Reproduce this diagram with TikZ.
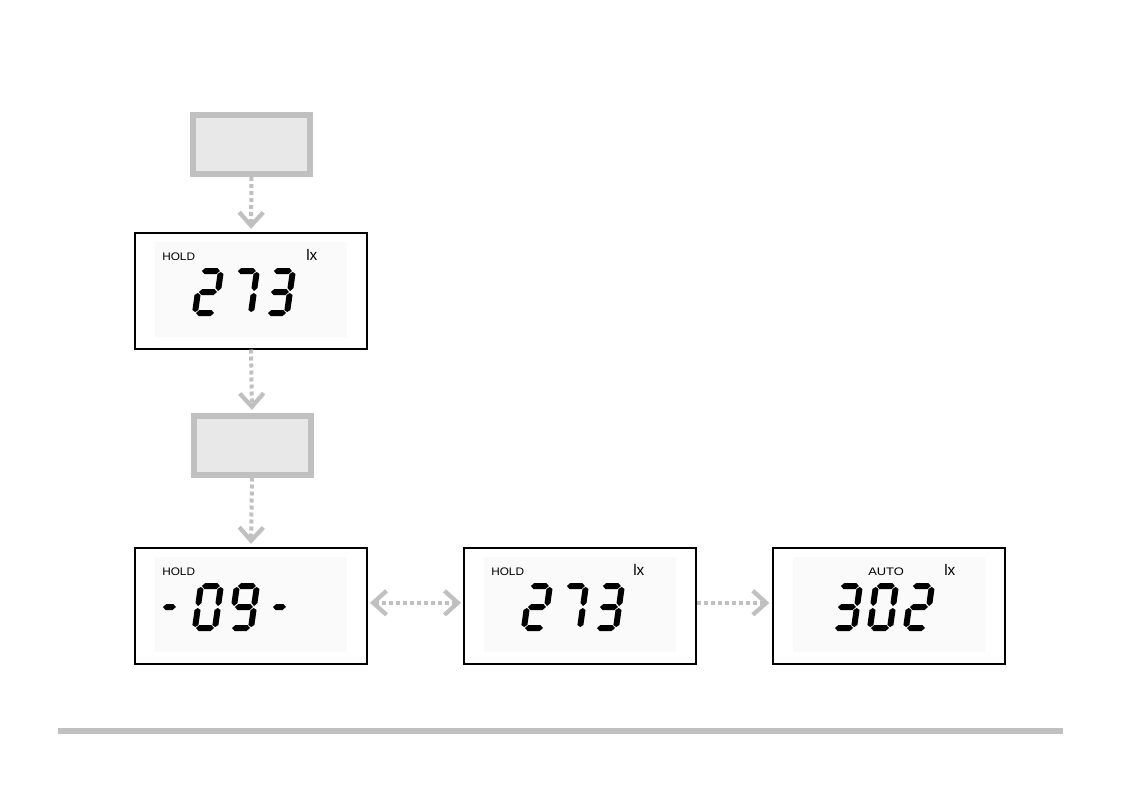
\documentclass[tikz,border=0pt]{standalone}
\usepackage{fontspec}
\newfontfamily\lcdfont{Liberation Sans}
\usetikzlibrary{arrows.meta}
\definecolor{lightline}{HTML}{C0C0C0}
\definecolor{boxfill}{HTML}{E8E8E8}
\definecolor{panelfill}{HTML}{FAFAFA}
% seven-segment pieces (local pixel coordinates, y downward, origin = bottom-left)
\newcommand\sA{\fill (1,-42)--(4,-45)--(16,-45)--(19,-42)--(16,-39)--(4,-39)--cycle;}
\newcommand\sG{\fill (1,-21)--(4,-24)--(16,-24)--(19,-21)--(16,-18)--(4,-18)--cycle;}
\newcommand\sD{\fill (1,0)--(4,-3)--(16,-3)--(19,0)--(16,3)--(4,3)--cycle;}
\newcommand\sF{\fill (0,-22)--(3,-25)--(3,-39)--(0,-41)--(-3,-39)--(-3,-25)--cycle;}
\newcommand\sE{\fill (0,-1)--(3,-3)--(3,-18)--(0,-20)--(-3,-18)--(-3,-3)--cycle;}
\newcommand\sB{\fill (20,-22)--(23,-25)--(23,-39)--(20,-41)--(17,-39)--(17,-25)--cycle;}
\newcommand\sC{\fill (20,-1)--(23,-3)--(23,-18)--(20,-20)--(17,-18)--(17,-3)--cycle;}
\newcommand\sM{\fill (4,-21)--(7,-24)--(14,-24)--(17,-21)--(14,-18)--(7,-18)--cycle;}
\newcommand\lcddigit[3]{\begin{scope}[shift={(#1,#2)},xslant=0.14] #3 \end{scope}}
\begin{document}
\begin{tikzpicture}[x=0.75pt,y=-0.75pt,
  graybox/.style={draw=lightline, fill=boxfill, line width=4.5pt,
    minimum width=87.75pt, minimum height=44.25pt, inner sep=0pt},
  lcdbox/.style={draw=black, line width=1.5pt,
    minimum width=174pt, minimum height=87pt, inner sep=0pt},
  barb/.tip={Straight Barb[length=10pt,width=18pt,line width=3.2pt]},
  flow/.style={draw=lightline, line width=3pt, dash pattern=on 3pt off 2.25pt,
    -barb, shorten >=2pt},
  flowboth/.style={draw=lightline, line width=3pt, dash pattern=on 3pt off 2.25pt,
    barb-barb, shorten >=1.5pt, shorten <=1.5pt},
  holdtxt/.style={font=\lcdfont\fontsize{8.2pt}{9pt}\selectfont, inner sep=0pt, anchor=base west},
  unittxt/.style={font=\lcdfont\fontsize{11.5pt}{13pt}\selectfont, inner sep=0pt, anchor=base west},
  panel/.style={fill=panelfill, draw=none}
]
\useasboundingbox (0,0) rectangle (1128,800);

% boxes
\node[graybox] (g1) at (251.5,144.5) {};
\node[lcdbox]  (d1) at (251,290.5) {};
\node[graybox] (g2) at (252,445) {};
\node[lcdbox]  (d2) at (251,605.5) {};
\node[lcdbox]  (d3) at (580,605.5) {};
\node[lcdbox]  (d4) at (889,605.5) {};

% LCD panels
\fill[panel] (155,242) rectangle (347,337);
\fill[panel] (155,557) rectangle (347,652);
\fill[panel] (484,557) rectangle (676,652);
\fill[panel] (793,557) rectangle (985,652);

% display 1: HOLD 273 lx
\node[holdtxt] (h1) at (162,260) {\scalebox{1.08}[1]{HOLD}};
\node[unittxt] (u1) at (306,260) {lx};
\lcddigit{195}{313}{\sA\sB\sG\sE\sD}
\lcddigit{231}{313}{\sA\sB\sC}
\lcddigit{267}{313}{\sA\sB\sG\sC\sD}

% display 2: HOLD -09-
\node[holdtxt] (h2) at (162,575) {\scalebox{1.08}[1]{HOLD}};
\lcddigit{156}{628}{\sM}
\lcddigit{195}{628}{\sA\sB\sC\sD\sE\sF}
\lcddigit{231}{628}{\sA\sB\sC\sD\sF\sG}
\lcddigit{266}{628}{\sM}

% display 3: HOLD 273 lx
\node[holdtxt] (h3) at (491,575) {\scalebox{1.08}[1]{HOLD}};
\node[unittxt] (u3) at (633,575) {lx};
\lcddigit{524}{628}{\sA\sB\sG\sE\sD}
\lcddigit{560}{628}{\sA\sB\sC}
\lcddigit{596}{628}{\sA\sB\sG\sC\sD}

% display 4: AUTO 302 lx
\node[holdtxt] (a4) at (868,575) {\scalebox{1.18}[1]{AUTO}};
\node[unittxt] (u4) at (944,575) {lx};
\lcddigit{834}{628}{\sA\sB\sG\sC\sD}
\lcddigit{870}{628}{\sA\sB\sC\sD\sE\sF}
\lcddigit{906}{628}{\sA\sB\sG\sE\sD}

% connectors
\draw[flow] (g1.south) -- (d1.north);
\draw[flow] (d1.south) -- (g2.north);
\draw[flow] (g2.south) -- (d2.north);
\draw[flowboth] ([yshift=2pt]d2.east) -- ([yshift=2pt]d3.west);
\draw[flow] ([yshift=2pt]d3.east) -- ([yshift=2pt]d4.west);

% bottom rule
\draw[lightline, line width=4.5pt] (58,731) -- (1063,731);
\end{tikzpicture}
\end{document}
